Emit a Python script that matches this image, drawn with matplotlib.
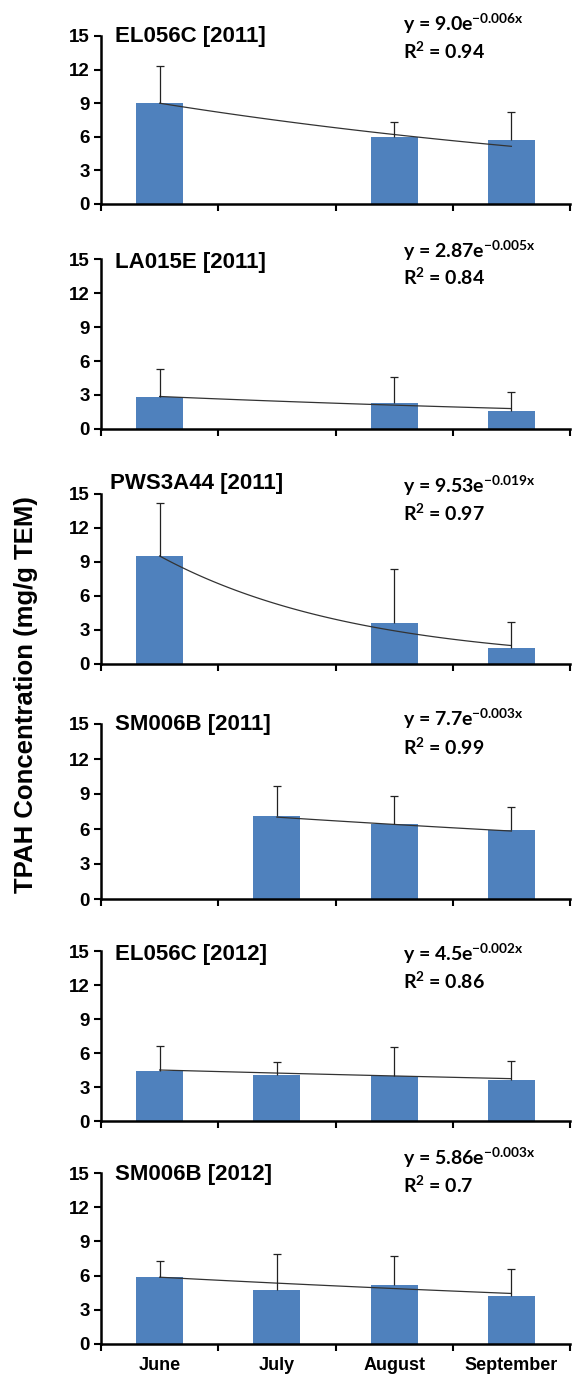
import numpy as np
import matplotlib.pyplot as plt

months = ['June', 'July', 'August', 'September']
month_day = [0, 31, 62, 93]

sites = ['EL056C [2011]', 'LA015E [2011]', 'PWS3A44 [2011]',
         'SM006B [2011]', 'EL056C [2012]', 'SM006B [2012]']

nan = np.nan
means = [
    [9.0, nan, 6.0, 5.7],
    [2.8, nan, 2.3, 1.6],
    [9.5, nan, 3.6, 1.4],
    [nan, 7.1, 6.4, 5.9],
    [4.4, 4.1, 4.0, 3.6],
    [5.9, 4.7, 5.2, 4.2],
]
err_plus = [
    [3.3, nan, 1.3, 2.5],
    [2.5, nan, 2.3, 1.7],
    [4.7, nan, 4.8, 2.3],
    [nan, 2.6, 2.4, 2.0],
    [2.2, 1.1, 2.5, 1.7],
    [1.4, 3.2, 2.5, 2.4],
]

# exponential trend lines  y = a * exp(b * day)
fit_a = ['9.0', '2.87', '9.53', '7.7', '4.5', '5.86']
fit_b = ['-0.006', '-0.005', '-0.019', '-0.003', '-0.002', '-0.003']
fit_r2 = ['0.94', '0.84', '0.97', '0.99', '0.86', '0.7']

# layout (pixel rows of the 15 and 0 gridlines), text heights in axes fraction
panel_px = [(36, 204), (259, 429), (494, 664), (724, 899), (951, 1121), (1173, 1344)]
title_y = [0.995, 0.98, 1.06, 0.995, 0.98, 0.99]
title_x = [0.03, 0.03, 0.02, 0.03, 0.03, 0.03]
eq_y = [1.07, 1.05, 1.05, 1.03, 0.98, 1.09]

plt.rcParams['font.family'] = 'Liberation Sans'
plt.rcParams['font.weight'] = 'bold'
plt.rcParams['mathtext.fontset'] = 'custom'
plt.rcParams['mathtext.rm'] = 'Lato:bold'
plt.rcParams['mathtext.bf'] = 'Lato:bold'
plt.rcParams['mathtext.default'] = 'bf'

W, H = 572, 1376
fig = plt.figure(figsize=(W / 100, H / 100), dpi=100)
bar_color = '#4F81BD'
x = np.arange(len(months))

for i, site in enumerate(sites):
    top, bot = panel_px[i]
    ax = fig.add_axes([101 / W, 1 - bot / H, 469 / W, (bot - top) / H])
    m = np.array(means[i])
    e = np.array(err_plus[i])
    ok = ~np.isnan(m)

    ax.bar(x[ok], m[ok], width=0.4, color=bar_color, zorder=1)
    ax.vlines(x[ok], m[ok], m[ok] + e[ok], color='#222222', lw=0.9, zorder=3)
    ax.plot(x[ok], m[ok] + e[ok], ls='none', marker='_', ms=6,
            mew=0.9, color='#222222', zorder=3)

    a, b = float(fit_a[i]), float(fit_b[i])
    xs = np.linspace(x[ok].min(), x[ok].max(), 100)
    days = np.interp(xs, x, month_day)
    ax.plot(xs, a * np.exp(b * days), color='#333333', lw=0.9, zorder=2)

    ax.set_xlim(-0.5, 3.5)
    ax.set_ylim(0, 15)
    ax.set_yticks(range(0, 16, 3))
    ax.set_xticks(np.arange(-0.5, 4, 1))
    ax.set_xticklabels([])
    for s in ['top', 'right']:
        ax.spines[s].set_visible(False)
    for s in ['left', 'bottom']:
        ax.spines[s].set_linewidth(1.8)
    ax.tick_params(axis='y', direction='out', length=5, width=1.5,
                   labelsize=13.5, pad=3)
    ax.tick_params(axis='x', direction='out', length=5, width=1.5)
    if i == len(sites) - 1:
        ax.set_xticks(x, minor=True)
        ax.set_xticklabels(months, minor=True, fontsize=13)
        ax.tick_params(axis='x', which='minor', length=0, pad=9)

    ax.text(title_x[i], title_y[i], site, transform=ax.transAxes, fontsize=16,
            ha='left', va='center')
    ax.text(0.644, eq_y[i], 'y = ' + fit_a[i] + 'e$^{' + fit_b[i] + 'x}$',
            transform=ax.transAxes, family='Lato', fontsize=14,
            ha='left', va='center')
    ax.text(0.644, eq_y[i] - 0.16, 'R$^{2}$ = ' + fit_r2[i],
            transform=ax.transAxes, family='Lato', fontsize=14,
            ha='left', va='center')

fig.text(26 / W, 1 - 695 / H, 'TPAH Concentration (mg/g TEM)', rotation=90,
         fontsize=18.5, ha='center', va='center')

fig.savefig('out.png', dpi=100)
